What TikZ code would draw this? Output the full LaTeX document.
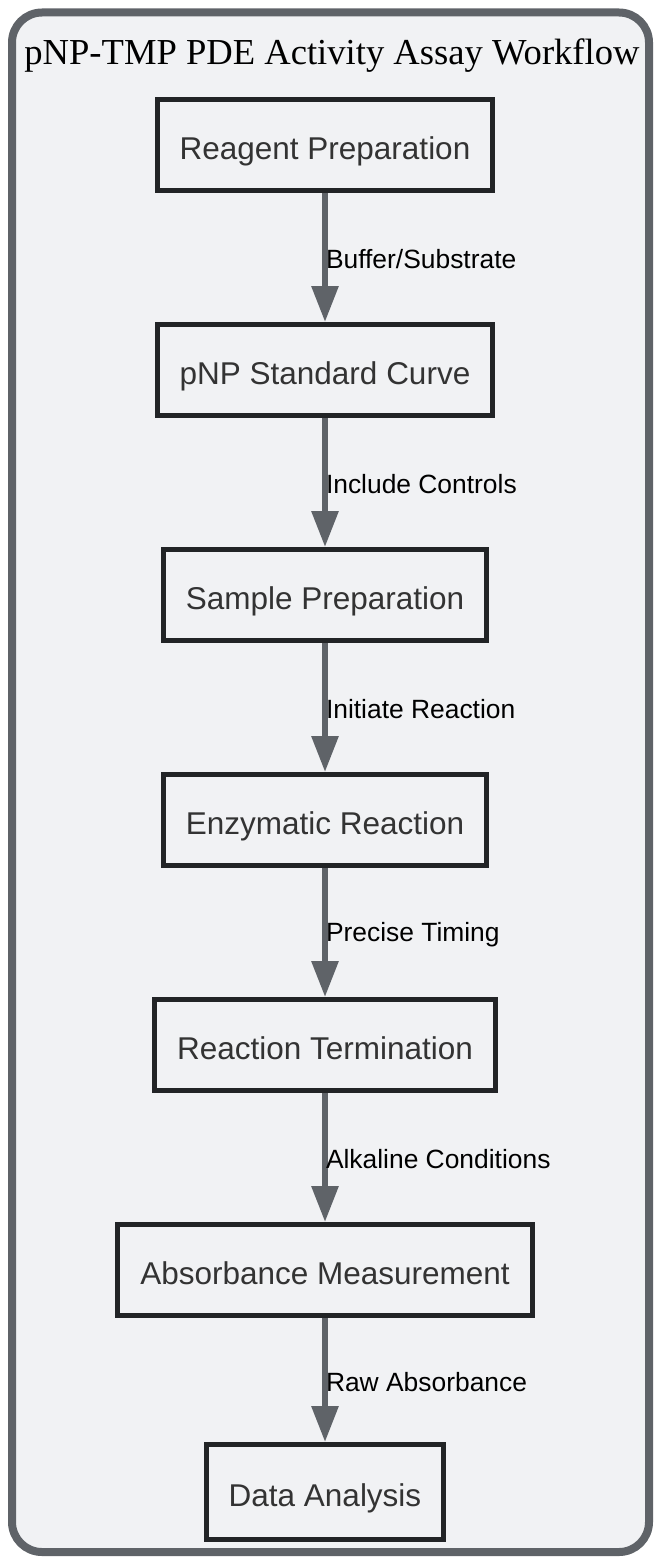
\documentclass[tikz,border=0pt]{standalone}
\usepackage{fontspec}
\setmainfont{Liberation Serif}
\newfontfamily\boxfont{Liberation Sans}
\usetikzlibrary{arrows.meta,shapes}

\definecolor{framegray}{HTML}{5F6368}
\definecolor{panelbg}{HTML}{F1F2F4}
\definecolor{boxline}{HTML}{222426}
\definecolor{boxtext}{HTML}{333333}

\begin{document}
\begin{tikzpicture}
\tikzstyle{stage}=[draw=boxline, line width=5pt, fill=panelbg, text=boxtext,
  font=\boxfont\fontsize{31.5pt}{38pt}\selectfont,
  text height=32pt, text depth=2.5pt,
  inner xsep=22.5pt, minimum height=91pt]
\tikzstyle{flow}=[color=framegray, line width=6pt,
  -{Triangle[width=26pt,length=36pt]}]
\tikzstyle{lbl}=[anchor=west, inner sep=0pt, xshift=-2pt, yshift=-2pt, text=black,
  font=\boxfont\fontsize{26.4pt}{32pt}\selectfont]
\useasboundingbox (0pt,0pt) rectangle (658pt,-1557pt);
% outer panel
\draw[draw=framegray, line width=8pt, fill=panelbg, rounded corners=30pt]
  (12pt,-12.5pt) rectangle (649pt,-1552pt);
\node (title) [anchor=base, font=\fontsize{36.6pt}{44pt}\selectfont]
  at (332pt,-65pt) {pNP-TMP PDE Activity Assay Workflow};

\tikzstyle{every node}+=[node distance=225pt]
\node (reagent) [stage] at (325pt,-145pt) {Reagent Preparation};
\node (curve) [stage, below of=reagent] {pNP Standard Curve};
\node (sample) [stage, below of=curve] {Sample Preparation};
\node (enzyme) [stage, below of=sample] {Enzymatic Reaction};
\node (stop) [stage, below of=enzyme] {Reaction Termination};
\node (absorb) [stage, below of=stop] {Absorbance Measurement};
\node (analysis) [stage, minimum height=95pt, below of=absorb, node distance=222pt] {Data Analysis};

\path[flow]
  (reagent) edge node[lbl] {Buffer/Substrate} (curve)
  (curve) edge node[lbl] {Include Controls} (sample)
  (sample) edge node[lbl] {Initiate Reaction} (enzyme)
  (enzyme) edge node[lbl] {Precise Timing} (stop)
  (stop) edge node[lbl] {Alkaline Conditions} (absorb)
  (absorb) edge node[lbl] {Raw Absorbance} (analysis)
;
\end{tikzpicture}
\end{document}
